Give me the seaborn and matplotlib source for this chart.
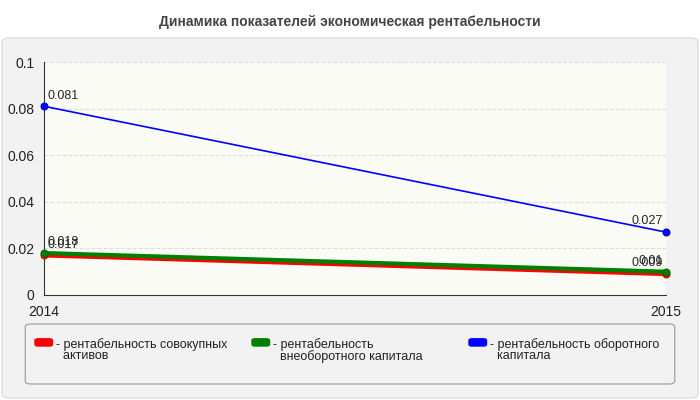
import numpy as np
import matplotlib.pyplot as plt
import seaborn as sns
from matplotlib.patches import FancyBboxPatch

years = [2014, 2015]
red_vals = [0.017, 0.009]
green_vals = [0.018, 0.010]
blue_vals = [0.081, 0.027]
red_lbl = ['0.017', '0.009']
green_lbl = ['0.018', '0.01']
blue_lbl = ['0.081', '0.027']
names = ['- рентабельность совокупных\n  активов',
         '- рентабельность\n  внеоборотного капитала',
         '- рентабельность оборотного\n  капитала']

sns.set_style('white')
plt.rcParams['font.family'] = ['Liberation Sans', 'DejaVu Sans']

fig = plt.figure(figsize=(7, 4), dpi=100)
fig.patch.set_facecolor('white')
# фоновая панель
fig.patches.append(FancyBboxPatch((0.003, 0.005), 0.994, 0.9, boxstyle='round,pad=0,rounding_size=0.01',
                                  transform=fig.transFigure, facecolor='#f2f2f2', edgecolor='#dddddd', lw=1,
                                  zorder=-10))
fig.text(0.5, 0.945, 'Динамика показателей экономическая рентабельности', ha='center', va='center',
         fontsize=10, fontweight='bold', color='#444444')

ax = fig.add_axes([0.063, 0.2625, 0.888, 0.5825])
ax.set_zorder(5)
ax.set_facecolor('#fbfbf6')
for s in ['top', 'right']:
    ax.spines[s].set_visible(False)
for s in ['left', 'bottom']:
    ax.spines[s].set_color('#333333')

series = [(red_vals, red_lbl, 'red', '#cc0000'), (green_vals, green_lbl, 'green', '#006600'),
          (blue_vals, blue_lbl, 'blue', '#0000aa')]
for vals, lbls, c, ec in series:
    lw = 1.2 if c == 'blue' else 3
    sns.lineplot(x=years, y=vals, ax=ax, color=c, lw=lw, marker='o', markersize=5,
                 markeredgecolor=ec, legend=False, clip_on=False, zorder=3)
    ax.text(years[0] + 0.005, vals[0] + 0.002, lbls[0], fontsize=9, va='bottom', ha='left')
    ax.text(years[1] - 0.005, vals[1] + 0.002, lbls[1], fontsize=9, va='bottom', ha='right')

ax.set_xlim(2014, 2015)
ax.set_ylim(0, 0.1)
ax.set_xticks(years)
ax.set_yticks([0, 0.02, 0.04, 0.06, 0.08, 0.1])
ax.set_yticklabels(['0', '0.02', '0.04', '0.06', '0.08', '0.1'])
ax.tick_params(labelsize=10, colors='#222222')
ax.yaxis.grid(True, color='#dddddd', ls='--', lw=0.8)

fig.patches.append(FancyBboxPatch((0.036, 0.04), 0.928, 0.15, boxstyle='round,pad=0,rounding_size=0.008',
                                  transform=fig.transFigure, facecolor='#f2f2f2', edgecolor='#999999', lw=0.8))
for i, (c, n) in enumerate(zip(['red', 'green', 'blue'], names)):
    x0 = 0.05 + i * 0.31
    fig.patches.append(FancyBboxPatch((x0, 0.135), 0.025, 0.018, boxstyle='round,pad=0,rounding_size=0.004',
                                      transform=fig.transFigure, facecolor=c, edgecolor=c))
    fig.text(x0 + 0.03, 0.155, n, fontsize=9, va='top', ha='left', color='#222222', linespacing=0.95)

fig.savefig('out.png', dpi=100)
